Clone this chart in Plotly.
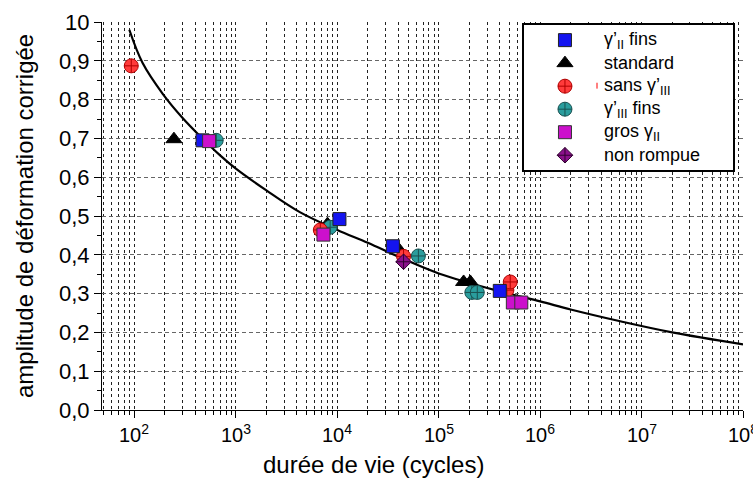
import plotly.graph_objects as go

# ---- data ----
fins_II_N = [470, 10500, 35300, 400000]
fins_II_y = [0.695, 0.492, 0.422, 0.307]

std_N = [245, 8000, 38700, 176000, 205000]
std_y = [0.698, 0.479, 0.420, 0.330, 0.330]

sans_N = [93, 6800, 45000, 470000, 507000]
sans_y = [0.887, 0.464, 0.396, 0.309, 0.330]

fins_III_N = [640, 8500, 63000, 212000, 240000]
fins_III_y = [0.695, 0.471, 0.397, 0.303, 0.303]

gros_N = [545, 7300, 538000, 652000]
gros_y = [0.693, 0.452, 0.277, 0.277]

nr_N = [45000]
nr_y = [0.382]

# fitted curve, points
curve_N = [89, 120, 190, 300, 447, 708, 1000, 2000, 4270, 10000, 20000, 41700,
           100000, 398000, 1000000, 2000000, 6310000, 20000000, 100000000]
curve_y = [0.980, 0.895, 0.815, 0.752, 0.705, 0.655, 0.622, 0.566, 0.510, 0.464,
           0.431, 0.393, 0.352, 0.306, 0.280, 0.259, 0.228, 0.200, 0.169]

ytick_vals = [0.0, 0.1, 0.2, 0.3, 0.4, 0.5, 0.6, 0.7, 0.8, 0.9, 1.0]
ytick_text = ["0,0", "0,1", "0,2", "0,3", "0,4", "0,5", "0,6", "0,7", "0,8", "0,9", "10"]

xtick_exp = [2, 3, 4, 5, 6, 7, 8]
xtick_text = ["10<sup>%d</sup>" % e for e in xtick_exp]

legend_names = ["γ’<sub>II</sub> fins", "standard", "sans γ’<sub>III</sub>",
                "γ’<sub>III</sub> fins", "gros γ<sub>II</sub>", "non rompue"]

FONT = "Liberation Sans, Arial, sans-serif"

W, H = 753, 480
ML, MR, MT, MB = 102, 10, 14, 70
PW, PH = W - ML - MR, H - MT - MB


def px_x(p):
    return (p - ML) / PW


def px_y(p):
    return (H - MB - p) / PH


sty_fins_II = dict(symbol="square", size=13, color="#1414f0", line=dict(color="#222222", width=1))
sty_std = dict(symbol="triangle-up", size=14, color="black", line=dict(color="black", width=1))
sty_sans = dict(symbol="circle-cross", size=14, color="#ff3b3b", line=dict(color="#b00000", width=1))
sty_fins_III = dict(symbol="circle-cross", size=14, color="#2a9d9d", line=dict(color="#1a5050", width=1))
sty_gros = dict(symbol="square", size=13, color="#cc10cc", line=dict(color="#333333", width=1))
sty_nr = dict(symbol="diamond-cross", size=12, color="#8a108a", line=dict(color="#300030", width=1))
legend_styles = [sty_fins_II, sty_std, sty_sans, sty_fins_III, sty_gros, sty_nr]

fig = go.Figure()

fig.add_trace(go.Scatter(x=curve_N, y=curve_y, mode="lines",
                         line=dict(color="black", width=2.2, shape="spline", smoothing=1.0),
                         showlegend=False, hoverinfo="skip"))
fig.add_trace(go.Scatter(x=std_N, y=std_y, mode="markers", marker=sty_std, showlegend=False))
fig.add_trace(go.Scatter(x=fins_III_N, y=fins_III_y, mode="markers", marker=sty_fins_III, showlegend=False))
fig.add_trace(go.Scatter(x=sans_N, y=sans_y, mode="markers", marker=sty_sans, showlegend=False))
fig.add_trace(go.Scatter(x=fins_II_N, y=fins_II_y, mode="markers", marker=sty_fins_II, showlegend=False))
fig.add_trace(go.Scatter(x=gros_N, y=gros_y, mode="markers", marker=sty_gros, showlegend=False))
fig.add_trace(go.Scatter(x=nr_N, y=nr_y, mode="markers", marker=sty_nr, showlegend=False))

# ---- legend drawn in its own small subplot (rows 0..5) ----
for i, (nm, st) in enumerate(zip(legend_names, legend_styles)):
    fig.add_trace(go.Scatter(x=[0.196], y=[i], mode="markers", marker=st, xaxis="x2", yaxis="y2",
                             showlegend=False, hoverinfo="skip"))
    fig.add_annotation(text=nm, xref="x2", yref="y2", x=0.373, y=i, xanchor="left", yanchor="middle",
                       showarrow=False, font=dict(size=18, family=FONT, color="black"))

# small red stroke seen inside the legend
fig.add_shape(type="line", xref="paper", yref="paper",
              x0=px_x(597), x1=px_x(597), y0=px_y(82), y1=px_y(76),
              line=dict(color="red", width=1), layer="above")

# x tick labels
for e, t in zip(xtick_exp, xtick_text):
    fig.add_annotation(text=t, xref="x", yref="paper", x=e, y=px_y(434),
                       xanchor="center", yanchor="middle",
                       showarrow=False, font=dict(size=20, family=FONT, color="black"))

fig.add_annotation(text="durée de vie (cycles)", xref="paper", yref="paper",
                   x=px_x(373), y=px_y(466), xanchor="center", yanchor="middle", showarrow=False,
                   font=dict(size=24, color="black", family=FONT))
fig.add_annotation(text="amplitude de déformation corrigée", xref="paper", yref="paper",
                   x=px_x(24), y=px_y(212), xanchor="center", yanchor="middle",
                   showarrow=False, textangle=-90,
                   font=dict(size=24, color="black", family=FONT))

fig.update_layout(
    width=W, height=H,
    margin=dict(l=ML, r=MR, t=MT, b=MB),
    paper_bgcolor="white", plot_bgcolor="white",
    font=dict(family=FONT, color="black"),
    showlegend=False,
    xaxis=dict(
        type="log", range=[1.68, 8.0], dtick=1, showticklabels=False,
        showline=True, linecolor="black", linewidth=1, mirror=False, zeroline=False,
        ticks="outside", ticklen=7, tickcolor="black", tickwidth=1,
        showgrid=True, gridcolor="#222222", gridwidth=1, griddash="3px,3px",
        minor=dict(dtick="D1", ticks="outside", ticklen=4, tickcolor="black",
                   showgrid=True, gridcolor="#222222", gridwidth=1, griddash="3px,3px"),
    ),
    yaxis=dict(
        range=[0, 1.0], tickvals=ytick_vals, ticktext=ytick_text,
        showline=True, linecolor="black", linewidth=1, zeroline=False,
        ticks="outside", ticklen=7, tickcolor="black",
        tickfont=dict(size=22, family=FONT, color="black"),
        showgrid=True, gridcolor="#666666", gridwidth=1, griddash="4px,3px",
        minor=dict(dtick=0.05, ticks="outside", ticklen=4, tickcolor="black", showgrid=False),
    ),
    xaxis2=dict(domain=[px_x(524), px_x(733)], anchor="y2", range=[0, 1],
                showgrid=False, zeroline=False, showticklabels=False, ticks="",
                showline=True, mirror=True, linecolor="black", linewidth=2),
    yaxis2=dict(domain=[px_y(165), px_y(17)], anchor="x2", range=[5.64, -0.66],
                showgrid=False, zeroline=False, showticklabels=False, ticks="",
                showline=True, mirror=True, linecolor="black", linewidth=2),
)

fig.write_html("out.html", config={"displayModeBar": False},
               post_script="document.body.style.margin='0';document.body.style.overflow='hidden';")
